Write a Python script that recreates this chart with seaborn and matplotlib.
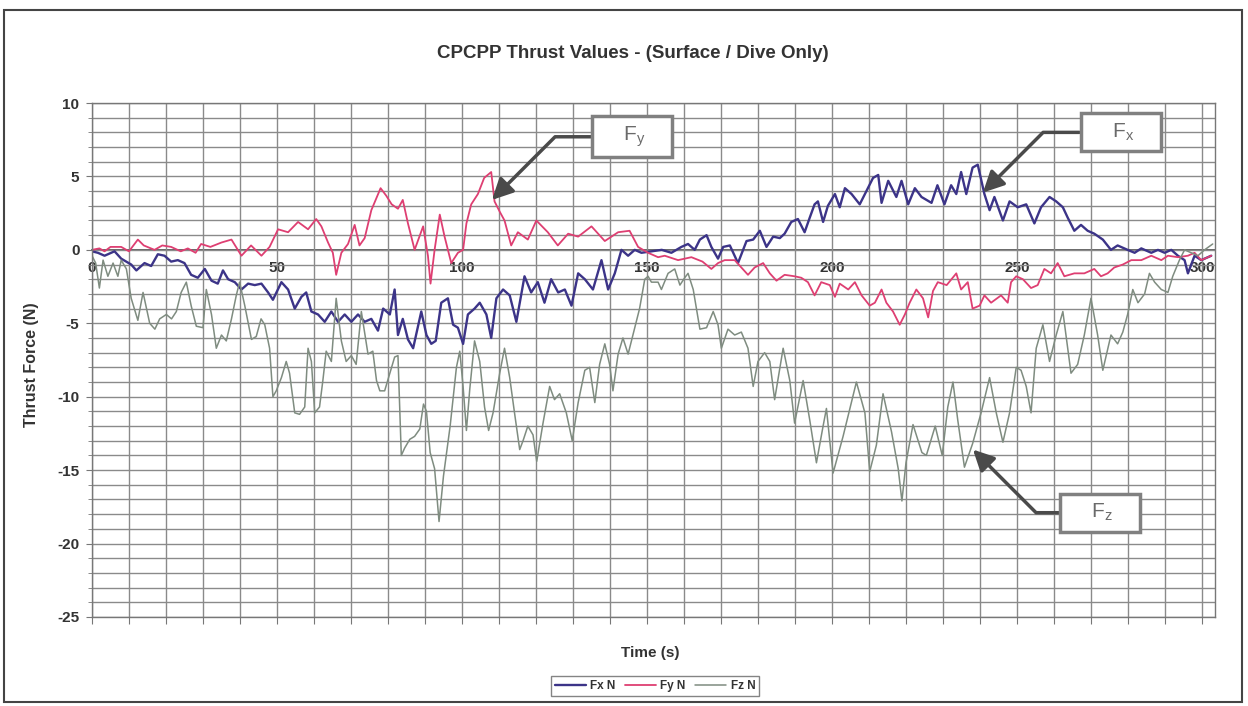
import pandas as pd
import seaborn as sns
import matplotlib.pyplot as plt
from matplotlib.patches import Rectangle
from matplotlib.ticker import MultipleLocator

# Values: (time in s, thrust in N)
fx_points = [
    (0, -0.1), (1.6, -0.2), (3.4, -0.4), (6.1, -0.1), (7.9, -0.6), (10.6, -1.0), (12, -1.4),
    (14.2, -0.9), (16, -1.1), (17.8, -0.3), (19.6, -0.4), (21.4, -0.8), (23.2, -0.7), (25, -0.9),
    (26.8, -1.7), (28.6, -1.9), (30.5, -1.3), (32.3, -2.1), (34, -2.3), (35.4, -1.4), (36.8, -2.0),
    (38.6, -2.2), (40.4, -2.7), (42.2, -2.3), (44, -2.4), (45.8, -2.3), (47.6, -2.9), (48.9, -3.4),
    (51.2, -2.2), (53, -2.7), (54.8, -4.0), (56.6, -3.2), (57.9, -2.9), (59.3, -4.2), (61.1, -4.4),
    (62.9, -4.9), (64.7, -4.2), (66.5, -4.9), (68.3, -4.4), (70.1, -4.9), (71.9, -4.4), (73.7, -4.9),
    (75.5, -4.7), (77.3, -5.5), (78.7, -4.0), (80.5, -4.4), (81.8, -2.7), (82.7, -5.8), (84, -4.7),
    (85.4, -6.1), (86.8, -6.7), (89, -4.2), (90.4, -5.8), (91.7, -6.4), (92.9, -6.2), (94.4, -3.6),
    (96.2, -3.3), (97.6, -5.1), (98.9, -5.3), (100.3, -6.4), (101.6, -4.4), (103.4, -4.0),
    (104.8, -3.6), (106.6, -4.4), (107.9, -6.0), (109.3, -3.3), (111.1, -2.7), (112.9, -3.1),
    (114.7, -4.9), (116.9, -1.8), (118.7, -2.9), (120.5, -2.2), (122.3, -3.6), (124.1, -2.0),
    (126, -2.9), (127.8, -2.7), (129.6, -3.8), (131.4, -1.6), (133.2, -2.0), (135.4, -2.7),
    (137.7, -0.7), (139.5, -2.7), (141.3, -1.6), (143.1, 0.0), (144.9, -0.4), (146.7, 0.0),
    (148.5, -0.2), (151.2, -0.1), (154, 0.0), (156.6, -0.2), (159.3, 0.2), (161.1, 0.4), (162.9, 0.0),
    (164.3, 0.7), (166.1, 1.0), (167.4, 0.2), (169.2, -0.6), (170.6, 0.2), (172.4, 0.3), (174.6, -0.9),
    (176.9, 0.6), (178.7, 0.7), (180.5, 1.3), (182.3, 0.2), (184.1, 0.9), (185.9, 0.8), (187.2, 1.1),
    (189, 1.9), (190.8, 2.1), (192.6, 1.2), (194, 2.2), (195.3, 3.1), (196.2, 3.3), (197.6, 1.9),
    (198.9, 3.0), (200.8, 3.8), (202.1, 2.9), (203.5, 4.2), (205.3, 3.8), (207.5, 3.1), (208.9, 3.8),
    (211.1, 4.9), (212.5, 5.1), (213.4, 3.2), (215.2, 4.7), (217.4, 3.6), (218.8, 4.7), (220.6, 3.1),
    (222.4, 4.2), (224.2, 3.6), (226.9, 3.2), (228.5, 4.4), (230.4, 3.1), (232.2, 4.4), (233.6, 3.8),
    (234.9, 5.3), (236.3, 3.8), (238, 5.6), (239.4, 5.8), (241.2, 3.8), (242.6, 2.7), (243.9, 3.6),
    (246.2, 2.0), (248, 3.3), (250.2, 2.9), (252.5, 3.1), (254.7, 1.8), (256.5, 2.9), (258.8, 3.6),
    (260.6, 3.3), (262.4, 2.9), (263.7, 2.2), (265.5, 1.3), (267.3, 1.7), (269.1, 1.3), (270.9, 1.1),
    (273.2, 0.7), (275.4, 0.0), (277.2, 0.3), (279.9, 0.0), (281.8, -0.2), (283.6, 0.1), (286.3, -0.2),
    (288.1, 0.0), (289.9, -0.2), (291.7, 0.0), (293.5, -0.4), (295.3, -0.7), (296.2, -1.6), (298, -0.4),
    (299.8, -0.7), (302.5, -0.4),
]

fy_points = [
    (0, 0.0), (2, 0.1), (3.4, -0.1), (5, 0.2), (7.9, 0.2), (10, -0.1), (12.4, 0.7), (14, 0.3),
    (16.9, 0.0), (19, 0.3), (21.4, 0.2), (24, -0.1), (25.9, 0.1), (28, -0.2), (29.5, 0.4), (32, 0.2),
    (35, 0.5), (37.7, 0.7), (40.4, -0.4), (43, 0.3), (45.8, -0.4), (48, 0.2), (50.3, 1.4), (53, 1.2),
    (55.7, 1.9), (58.4, 1.4), (60.6, 2.1), (62, 1.6), (63.8, 0.5), (65.1, -0.2), (66, -1.7),
    (67.4, -0.2), (69.2, 0.4), (71, 1.7), (72.3, 0.3), (73.7, 0.8), (75.5, 2.7), (78, 4.2),
    (79.5, 3.7), (81, 3.1), (82.7, 2.8), (84, 3.4), (85.4, 1.8), (87.2, 0.0), (89.5, 1.6),
    (90.8, -0.4), (91.5, -2.3), (92.6, 0.0), (94, 2.4), (95.3, 0.9), (97.1, -0.9), (98.9, -0.2),
    (100.3, 0.0), (101.2, 1.8), (102.5, 3.1), (104.3, 3.8), (106, 4.9), (107.9, 5.3), (108.8, 3.3),
    (110.2, 2.6), (111.5, 2.0), (113.3, 0.3), (115.1, 1.2), (117.8, 0.7), (120.1, 2.0), (123.2, 1.2),
    (125.9, 0.3), (128.7, 1.1), (131.4, 0.9), (135, 1.6), (138.6, 0.6), (142.2, 1.2), (145.3, 1.3),
    (147.6, 0.2), (150.3, -0.2), (153, -0.5), (154.8, -0.4), (158.4, -0.7), (162, -0.5), (165, -0.8),
    (167.4, -1.3), (169.2, -0.9), (171, -0.7), (173.7, -0.7), (175.5, -1.2), (177.3, -1.7),
    (179.1, -1.2), (181.4, -0.9), (183.2, -1.6), (185, -2.1), (187.2, -1.7), (189.9, -1.8),
    (191.7, -1.9), (193.5, -2.2), (195.3, -3.1), (197.1, -2.2), (199.4, -2.4), (200.8, -3.2),
    (202.1, -2.3), (204.4, -2.7), (206.2, -2.2), (208, -3.1), (210.2, -3.8), (211.6, -3.6),
    (213.4, -2.7), (214.7, -3.6), (216.5, -4.2), (218.3, -5.1), (219.7, -4.4), (221, -3.6),
    (222.8, -2.7), (224.6, -3.3), (226, -4.6), (227.3, -2.8), (228.6, -2.2), (231, -2.4),
    (233.6, -1.6), (234.9, -2.7), (236.7, -2.2), (238, -4.0), (239.9, -3.8), (241.2, -3.1),
    (243, -3.6), (245.7, -3.1), (247.5, -3.6), (248.4, -2.2), (249.8, -1.8), (251.6, -2.0),
    (253.8, -2.6), (255.6, -2.4), (257.4, -1.3), (259.2, -1.6), (261, -0.9), (262.8, -1.8),
    (265.5, -1.6), (268.2, -1.6), (270.9, -1.3), (272.7, -1.8), (274.5, -1.6), (276.3, -1.2),
    (278.6, -1.0), (280.9, -0.7), (283.6, -0.7), (286.3, -0.4), (289, -0.7), (290.8, -0.4),
    (293.5, -0.5), (296.2, -0.4), (298, -0.2), (299.8, -0.7), (302.5, -0.4),
]

fz_points = [
    (0, -0.4), (1, -0.9), (2, -2.6), (3, -0.7), (4.3, -1.8), (5.7, -0.9), (7, -1.8), (7.9, -0.7),
    (9.3, -1.3), (10.6, -3.3), (12.4, -4.8), (13.8, -2.9), (15.6, -5.0), (17, -5.4), (18.3, -4.7),
    (20.1, -4.4), (21.5, -4.7), (22.8, -4.2), (24.1, -2.9), (25.5, -2.2), (26.8, -3.8), (28.2, -5.2),
    (30, -5.3), (30.9, -2.7), (32.3, -4.4), (33.6, -6.7), (35, -5.8), (36.3, -6.2), (37.7, -4.7),
    (39, -3.1), (39.9, -2.2), (41.3, -3.8), (43.1, -6.1), (44.4, -5.9), (45.7, -4.7), (46.7, -5.1),
    (48, -6.7), (48.9, -10.0), (49.8, -9.6), (51.2, -8.7), (52.5, -7.6), (53.4, -8.4), (54.8, -11.1),
    (56.1, -11.2), (57.5, -10.7), (58.4, -6.7), (59.3, -7.6), (60.2, -11.1), (61.5, -10.7),
    (62.4, -8.9), (63.3, -6.9), (64.7, -7.6), (66, -3.3), (67.4, -6.2), (68.7, -7.6), (70.1, -7.2),
    (71.4, -7.8), (72.8, -4.2), (74.6, -7.1), (75.9, -6.9), (76.9, -8.9), (77.8, -9.6), (79.1, -9.6),
    (80.5, -8.4), (81.8, -7.3), (82.7, -7.2), (83.6, -14.0), (84.5, -13.5), (85.9, -12.9),
    (87.2, -12.7), (88.6, -12.2), (89.6, -10.5), (90.4, -11.0), (91.4, -13.8), (92.6, -14.9),
    (93.8, -18.5), (95, -15.4), (96.8, -12.0), (98.5, -8.0), (99.4, -6.9), (100.3, -9.3),
    (101.2, -12.3), (102.1, -9.5), (103.4, -6.2), (104.8, -7.6), (106.1, -10.7), (107.2, -12.3),
    (108.4, -11.1), (110.2, -8.4), (111.5, -6.7), (112.9, -8.7), (114.2, -11.1), (115.6, -13.6),
    (116.5, -13.0), (117.8, -12.0), (119.2, -12.6), (120.2, -14.4), (121.9, -11.8), (123.7, -9.3),
    (125, -10.2), (126.4, -9.8), (128.2, -11.1), (129.8, -13.0), (131.4, -10.4), (133.2, -8.2),
    (134.5, -8.0), (135.9, -10.4), (137.2, -7.8), (138.6, -6.4), (139.9, -7.8), (140.8, -9.6),
    (142.2, -7.1), (143.5, -6.0), (144.9, -7.1), (146.7, -5.3), (148, -4.0), (149.4, -2.0),
    (150.3, -1.8), (151.2, -2.2), (153, -2.2), (153.9, -2.7), (155.7, -1.6), (157.5, -1.3),
    (158.9, -2.4), (160.2, -1.9), (161.1, -1.6), (162.5, -2.7), (164.3, -5.4), (166.1, -5.3),
    (167.9, -4.2), (169.2, -5.1), (170.1, -6.7), (171.9, -5.4), (173.7, -5.8), (175.5, -5.6),
    (177.3, -6.7), (178.7, -9.3), (180, -7.6), (181.8, -7.0), (183.2, -7.6), (184.5, -10.2),
    (186.8, -6.7), (188.6, -8.9), (189.9, -11.8), (192.2, -8.9), (194, -11.6), (195.8, -14.5),
    (197.6, -12.0), (198.5, -10.8), (200.3, -15.2), (203, -12.7), (206.6, -9.0), (208.9, -11.1),
    (210.2, -15.1), (212, -13.3), (213.8, -9.8), (216.1, -12.4), (217.9, -14.9), (218.9, -17.1),
    (220, -14.5), (221.9, -11.9), (224.3, -13.8), (225.5, -14.0), (227.9, -12.0), (229.8, -14.0),
    (231.3, -10.7), (232.7, -9.0), (234, -11.6), (235.8, -14.8), (238, -13.2), (240.3, -11.1),
    (242.6, -8.7), (244.4, -11.1), (246.2, -13.1), (248, -11.1), (249.8, -8.0), (251.1, -8.2),
    (252.5, -9.3), (253.8, -11.1), (255.2, -6.7), (257, -5.1), (258.8, -7.6), (260.6, -5.8),
    (262.4, -4.2), (264.6, -8.4), (266.4, -7.8), (268.2, -5.8), (270, -3.3), (271.8, -5.8),
    (273.2, -8.2), (275.4, -5.8), (277.2, -6.4), (278.6, -5.6), (279.9, -4.4), (281.3, -2.7),
    (282.7, -3.6), (284.5, -3.0), (285.8, -1.6), (287.2, -2.2), (289, -2.7), (290.8, -2.9),
    (292.1, -1.8), (293.9, -0.7), (295.3, 0.0), (297.1, -0.2), (298.9, -0.4), (300.7, 0.0),
    (302.9, 0.4),
]

series_names = ["Fx N", "Fy N", "Fz N"]
series_colors = ["#3c3488", "#de3f72", "#7f8c80"]
series_widths = [1.7, 1.3, 1.1]

# Callout labels: text, point on the curve, box centre, slope of the leader
callouts = [
    ("F_y", (108.1, 3.4), (146, 7.7), 45),
    ("F_x", (240.8, 3.9), (278, 8.0), 45),
    ("F_z", (238.1, -13.6), (272.4, -17.9), -45),
]

frames = []
for name, pts in zip(series_names, [fx_points, fy_points, fz_points]):
    frames.append(pd.DataFrame(pts, columns=["time", "force"]).assign(series=name))
df = pd.concat(frames, ignore_index=True)

sns.set_style("white")
plt.rcParams["font.family"] = ["Liberation Sans", "DejaVu Sans"]
plt.rcParams["font.weight"] = "bold"
plt.rcParams["axes.unicode_minus"] = False
text_color = "#333333"

fig = plt.figure(figsize=(12.48, 7.06), dpi=100)
ax = fig.add_axes([0.0737, 0.1261, 0.8998, 0.7280])

for name, color, lw in zip(series_names, series_colors, series_widths):
    sns.lineplot(data=df[df["series"] == name], x="time", y="force", color=color,
                 linewidth=lw, label=name, estimator=None, sort=False, ax=ax)

ax.set_xlim(0, 303.5)
ax.set_ylim(-25, 10)
ax.xaxis.set_major_locator(MultipleLocator(10))
ax.yaxis.set_major_locator(MultipleLocator(5))
ax.yaxis.set_minor_locator(MultipleLocator(1))
ax.grid(True, which="both", color="#8a8a8a", linewidth=1.0)
ax.set_axisbelow(True)
ax.tick_params(axis="x", bottom=True, length=5, color="#777777", labelbottom=False)
ax.tick_params(axis="y", which="major", left=True, length=4, pad=5, color="#777777",
               labelsize=11, labelcolor=text_color)
ax.tick_params(axis="y", which="minor", left=True, length=3, color="#777777")
for lab in ax.get_yticklabels():
    lab.set_fontweight("bold")
for sp in ax.spines.values():
    sp.set_color("#777777")
    sp.set_linewidth(1.0)

# category axis crossing at y = 0, like the original spreadsheet chart
y0, y1 = ax.get_ylim()
sec = ax.secondary_xaxis((0 - y0) / (y1 - y0))
sec.set_xticks(range(0, 301, 50))
sec.xaxis.set_ticks_position("bottom")
sec.tick_params(axis="x", bottom=True, top=False, labelbottom=True, labeltop=False,
                length=0, pad=8, labelsize=11, labelcolor=text_color)
for side in ("top", "bottom"):
    sec.spines[side].set_color("#555555")
    sec.spines[side].set_linewidth(1.3)
for lab in sec.get_xticklabels():
    lab.set_fontweight("bold")

ax.set_xlabel("Time (s)", fontsize=11, fontweight="bold", color=text_color)
ax.xaxis.set_label_coords(0.497, -0.056)
ax.set_ylabel("Thrust Force (N)", fontsize=11.5, fontweight="bold", color=text_color)
ax.yaxis.set_label_coords(-0.047, 0.49)

for txt, tip, box, ang in callouts:
    ax.annotate("    $\\mathregular{" + txt + "}$    ", xy=tip, xytext=box,
                ha="center", va="center", fontsize=15, fontweight="normal", color="#6a6a6a",
                bbox=dict(boxstyle="square,pad=0.4", fc="white", ec="#808080", lw=2.5),
                arrowprops=dict(arrowstyle="-|>,head_length=0.9,head_width=0.45",
                                color="#4a4a4a", lw=2.5, mutation_scale=14,
                                connectionstyle=f"angle,angleA=0,angleB={ang},rad=0",
                                shrinkA=0, shrinkB=0),
                zorder=5)

handles, labels = ax.get_legend_handles_labels()
ax.get_legend().remove()
leg = fig.legend(handles, labels, loc="center", bbox_to_anchor=(655 / 1248, 1 - 686 / 706),
                 ncol=3, fontsize=8.5, frameon=True, fancybox=False, edgecolor="#666666",
                 handlelength=2.6, columnspacing=0.8, handletextpad=0.4, borderpad=0.3,
                 labelcolor=text_color)
leg.get_frame().set_linewidth(1.0)

fig.text(633 / 1248, 1 - 53 / 706, "CPCPP Thrust Values - (Surface / Dive Only)",
         ha="center", va="center", fontsize=13.5, fontweight="bold", color=text_color)

fig.add_artist(Rectangle((0.003, 0.006), 0.992, 0.98, transform=fig.transFigure,
                         fill=False, ec="#444444", lw=1.5))

fig.savefig("out.png", dpi=100)
